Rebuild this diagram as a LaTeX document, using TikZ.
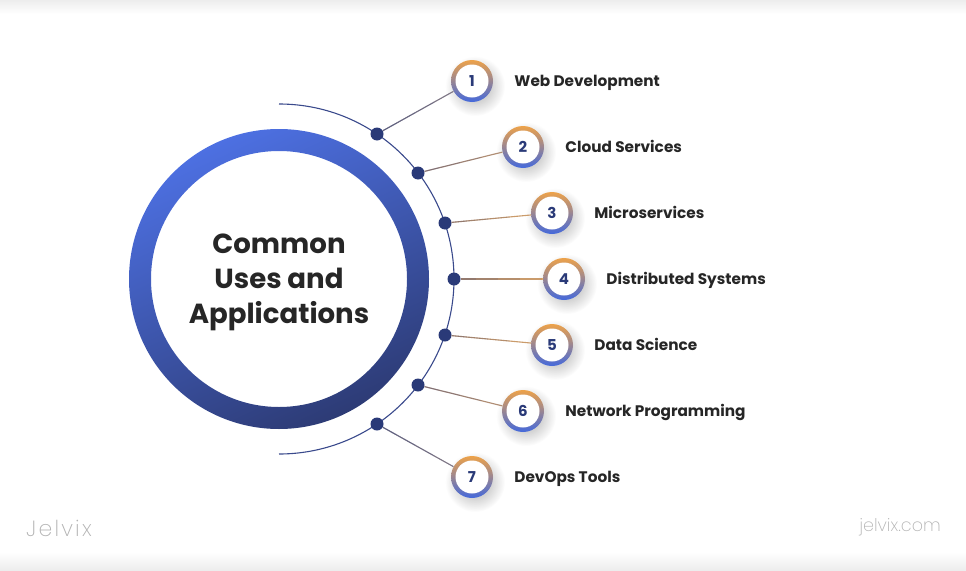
\documentclass[tikz,border=0pt]{standalone}
\usepackage{fontspec}
\setmainfont{Poppins}
\newfontfamily\logofont{Poppins ExtraLight}
\usetikzlibrary{positioning,fadings,backgrounds,calc}

\definecolor{ringblue}{HTML}{4D70E2}
\definecolor{ringmid}{HTML}{3D519F}
\definecolor{ringnavy}{HTML}{2D3B75}
\definecolor{dotnavy}{HTML}{2A3A78}
\definecolor{arcblue}{HTML}{3A4A8C}
\definecolor{badgeorange}{HTML}{EDA24A}
\definecolor{badgeblue}{HTML}{4469DC}
\definecolor{linkslate}{HTML}{8A7F88}
\definecolor{linkmuted}{HTML}{C39A74}
\definecolor{linktan}{HTML}{E2AA6A}
\definecolor{inkdark}{HTML}{262626}

\tikzfading[name=softfade, inner color=transparent!35, outer color=transparent!100]

\tikzset{
    dot/.style = {circle, fill=dotnavy, minimum size=13, inner sep=0},
    badge/.style = {circle, minimum size=42, inner sep=0, top color=badgeorange, bottom color=badgeblue,
        path picture={\fill[white] (path picture bounding box.center) circle (16.5);},
        text=dotnavy, font=\bfseries\fontsize{15}{15}\selectfont},
    title/.style = {inner sep=0, text height=12, text depth=2, text=inkdark, font=\bfseries\fontsize{15.3}{15.3}\selectfont},
    link/.style = {line width=1.1},
    softshadow/.style = {black!55, path fading=softfade},
}

\begin{document}
\begin{tikzpicture}[x=1pt, y=-1pt]
    \useasboundingbox (0,0) rectangle (966,570);
    \shade[top color=black!7, bottom color=white] (0,0) rectangle (966,14);
    \shade[top color=white, bottom color=black!7] (0,552) rectangle (966,570);

    % main ring
    \coordinate (c) at (279,279);
    \shade[even odd rule, top color=ringblue, middle color=ringmid, bottom color=ringnavy, shading angle=25]
        (c) circle (150) (c) circle (128);
    \node[align=center, text=inkdark, font=\bfseries\fontsize{27.6}{35}\selectfont] (main) at (279,282) {Common\\Uses and\\Applications};

    \draw[arcblue, line width=1.1] (279,104) arc[start angle=-90, end angle=90, radius=175];

    % dots on the arc
    \node[dot] (d1) at (377,134) {};
    \node[dot] (d2) at (418,173) {};
    \node[dot] (d3) at (445,223) {};
    \node[dot] (d4) at (454,279) {};
    \node[dot] (d5) at (445,335) {};
    \node[dot] (d6) at (418,385) {};
    \node[dot] (d7) at (377,424) {};

    % numbered badges
    \node[badge] (b1) at (472,81) {1};
    \node[badge] (b2) at (523,147) {2};
    \node[badge] (b3) at (552,213) {3};
    \node[badge] (b4) at (564,279) {4};
    \node[badge] (b5) at (552,345) {5};
    \node[badge] (b6) at (523,411) {6};
    \node[badge] (b7) at (472,477) {7};

    \node[title, right=21 of b1] (t1) {Web Development};
    \node[title, right=21 of b2] (t2) {Cloud Services};
    \node[title, right=21 of b3] (t3) {Microservices};
    \node[title, right=21 of b4] (t4) {Distributed Systems};
    \node[title, right=21 of b5] (t5) {Data Science};
    \node[title, right=21 of b6] (t6) {Network Programming};
    \node[title, right=21 of b7] (t7) {DevOps Tools};

    % links darken towards the dot
    \foreach \i/\tone in {1/linkslate,2/linkmuted,3/linktan,4/linktan,5/linktan,6/linkmuted,7/linkslate} {
        \draw[link, \tone] (d\i) -- (b\i);
        \foreach \f in {0.2,0.4,0.6,0.8} {
            \draw[link, dotnavy, opacity=0.13] (d\i) -- ($(d\i)!\f!(b\i)$);
        }
    }
    \begin{scope}[on background layer]
        \foreach \i in {1,...,7} {
            \fill[softshadow] ($(b\i)+(3,5)$) circle (30);
        }
    \end{scope}

    \node[text=black!30, font=\logofont\fontsize{22}{22}\selectfont, anchor=west, inner sep=0] (logo) at (26,528) {J\kern2.2pt e\kern2.2pt l\kern2.2pt v\kern2.2pt i\kern2.2pt x};
    \node[text=black!30, font=\logofont\fontsize{17.5}{17.5}\selectfont, anchor=east, inner sep=0] (site) at (941,527) {jelvix.com};
\end{tikzpicture}
\end{document}
